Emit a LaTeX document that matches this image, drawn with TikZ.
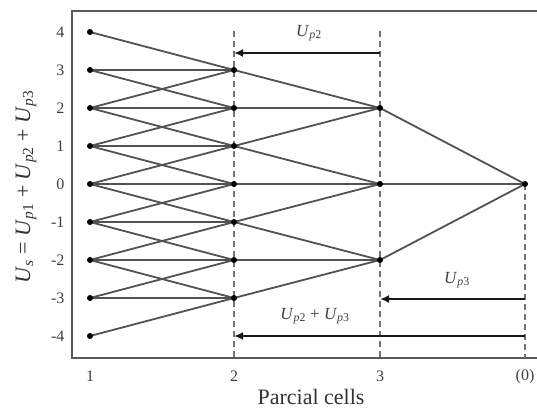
\documentclass[tikz,border=0pt]{standalone}
\usepackage{fontspec}
\setmainfont{Liberation Serif}
\usetikzlibrary{arrows.meta}
\newcommand{\Up}[1]{\textit{U}\textsubscript{\textit{p}#1}}
\begin{document}
\begin{tikzpicture}[x=1pt,y=-1pt,
  dot/.style={circle,fill=black,inner sep=0pt,minimum size=6pt},
  link/.style={draw=black!68,line width=1.8pt},
  guide/.style={draw=black!55,dash pattern=on 6pt off 4pt,line width=1.4pt},
  frame/.style={draw=black!65,line width=1.7pt},
  span/.style={draw=black!90,line width=2.1pt,-{Latex[length=9pt,width=8pt]}},
  tick/.style={font=\fontsize{16}{16}\selectfont,text=black!75},
  spanlabel/.style={font=\fontsize{17}{17}\selectfont,text=black!75},
  axislabel/.style={font=\fontsize{22}{22}\selectfont,text=black!80}]
\useasboundingbox (0,0) rectangle (537,409);
\fill[white] (0,0) rectangle (537,409);

% points
\foreach \k in {0,...,8} \coordinate (a\k) at (90,{184-38*(\k-4)});
\foreach \k in {1,...,7} \coordinate (b\k) at (234,{184-38*(\k-4)});
\foreach \k in {2,4,6} \coordinate (c\k) at (380,{184-38*(\k-4)});
\coordinate (d4) at (525,184);

% frame
\coordinate (tl) at (72,11);
\coordinate (bl) at (72,358);
\coordinate (tr) at (537,11);
\coordinate (br) at (537,358);
\draw[frame] (tr) -- (tl) -- (bl) -- (br);

% dashed guides
\coordinate (g2t) at (234,31); \coordinate (g2b) at (234,358);
\coordinate (g3t) at (380,31); \coordinate (g3b) at (380,358);
\coordinate (g4b) at (525,358);
\draw[guide] (g2t) -- (g2b);
\draw[guide] (g3t) -- (g3b);
\draw[guide] (d4) -- (g4b);

% links column 1 -> column 2
\foreach \s/\t in {a0/b1, a1/b1, a1/b2, a2/b1, a2/b2, a2/b3, a3/b2, a3/b3, a3/b4,
  a4/b3, a4/b4, a4/b5, a5/b4, a5/b5, a5/b6, a6/b5, a6/b6, a6/b7, a7/b6, a7/b7, a8/b7}
  \draw[link] (\s) -- (\t);
% column 2 -> column 3
\foreach \s/\t in {b7/c6, b6/c6, b5/c6, b5/c4, b4/c4, b3/c4, b3/c2, b2/c2, b1/c2}
  \draw[link] (\s) -- (\t);
% column 3 -> column 4
\foreach \s in {c2,c4,c6} \draw[link] (\s) -- (d4);

% dots
\foreach \k in {0,...,8} \node[dot] (na\k) at (a\k) {};
\foreach \k in {1,...,7} \node[dot] (nb\k) at (b\k) {};
\foreach \k in {2,4,6} \node[dot] (nc\k) at (c\k) {};
\node[dot] (nd4) at (d4) {};

% spans
\coordinate (s2a) at (380,53); \coordinate (s2b) at (234,53);
\draw[span] (s2a) -- (s2b);
\node[spanlabel] (l2) at (309,33) {\Up{2}};
\coordinate (s3a) at (525,299); \coordinate (s3b) at (380,299);
\draw[span] (s3a) -- (s3b);
\node[spanlabel] (l3) at (457,280) {\Up{3}};
\coordinate (s23a) at (525,336); \coordinate (s23b) at (234,336);
\draw[span] (s23a) -- (s23b);
\node[spanlabel] (l23) at (315,316) {\Up{2} + \Up{3}};

% y ticks
\foreach \v [count=\i from 0] in {-4,-3,-2,-1,0,1,2,3,4}
  \node[tick,anchor=east] (yt\i) at (68,{184-38*\v}) {\v};
% x ticks
\node[tick] (xt1) at (90,376) {1};
\node[tick] (xt2) at (234,376) {2};
\node[tick] (xt3) at (380,376) {3};
\node[tick] (xt4) at (525,377) {(0)};

% axis labels
\node[axislabel] (xl) at (311,397) {Parcial cells};
\node[axislabel,rotate=90] (yl) at (26,187) {\textit{U}\textsubscript{\textit{s}} = \Up{1} + \Up{2} + \Up{3}};
\end{tikzpicture}
\end{document}
